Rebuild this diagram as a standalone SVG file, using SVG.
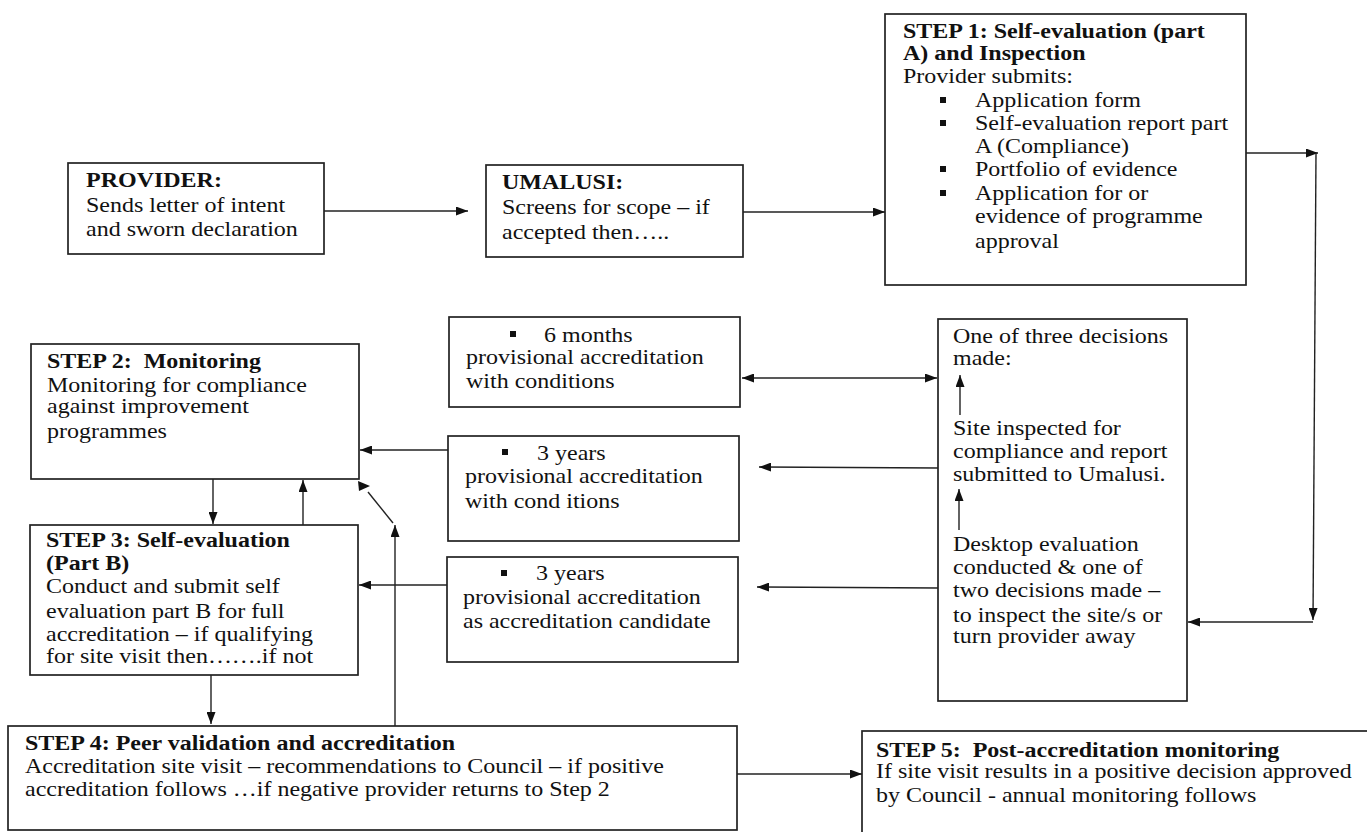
<svg xmlns="http://www.w3.org/2000/svg" width="1367" height="832" viewBox="0 0 1367 832">
<style>
.box{fill:#fff;stroke:#222;stroke-width:1.7}
.t{font-family:"Liberation Serif","Times New Roman",serif;font-size:20px;fill:#111}
.b{font-weight:bold}
.c{fill:none;stroke:#222;stroke-width:1.4}
.a{marker-end:url(#ah)}
.bul{fill:#111}
</style>
<defs>
<marker id="ah" markerUnits="userSpaceOnUse" markerWidth="12" markerHeight="9" refX="12" refY="4.5" orient="auto-start-reverse" viewBox="0 0 12 9">
<path d="M0,0 L12,4.5 L0,9 z" fill="#111"/>
</marker>
</defs>
<rect width="1367" height="832" fill="#fff"/>

<g id="provider">
<rect class="box" x="68" y="163" width="256" height="91"/>
<text class="t" transform="matrix(1.2 0 0 1 86 0)"><tspan class="b" x="0" y="187">PROVIDER:</tspan><tspan x="0" y="212">Sends letter of intent</tspan><tspan x="0" y="236">and sworn declaration</tspan></text>
</g>

<g id="umalusi">
<rect class="box" x="486" y="165" width="257" height="92"/>
<text class="t" transform="matrix(1.2 0 0 1 502 0)"><tspan class="b" x="0" y="189">UMALUSI:</tspan><tspan x="0" y="214">Screens for scope – if</tspan><tspan x="0" y="239">accepted then…..</tspan></text>
</g>

<g id="step1">
<rect class="box" x="885" y="14" width="361" height="271"/>
<text class="t" transform="matrix(1.2 0 0 1 903 0)"><tspan class="b" x="0" y="38">STEP 1: Self-evaluation (part</tspan><tspan class="b" x="0" y="60">A) and Inspection</tspan><tspan x="0" y="83">Provider submits:</tspan></text>
<rect class="bul" x="940" y="97" width="6" height="6"/>
<rect class="bul" x="940" y="120" width="6" height="6"/>
<rect class="bul" x="940" y="166" width="6" height="6"/>
<rect class="bul" x="940" y="190" width="6" height="6"/>
<text class="t" transform="matrix(1.2 0 0 1 975 0)"><tspan x="0" y="107">Application form</tspan><tspan x="0" y="130">Self-evaluation report part</tspan><tspan x="0" y="153">A (Compliance)</tspan><tspan x="0" y="176">Portfolio of evidence</tspan><tspan x="0" y="200">Application for or</tspan><tspan x="0" y="223">evidence of programme</tspan><tspan x="0" y="248">approval</tspan></text>
</g>

<g id="step2">
<rect class="box" x="31" y="344" width="328" height="135"/>
<text class="t" transform="matrix(1.2 0 0 1 47 0)"><tspan class="b" x="0" y="368">STEP 2:&#160; Monitoring</tspan><tspan x="0" y="392">Monitoring for compliance</tspan><tspan x="0" y="413">against improvement</tspan><tspan x="0" y="438">programmes</tspan></text>
</g>

<g id="step3">
<rect class="box" x="30" y="525" width="328" height="150"/>
<text class="t" transform="matrix(1.2 0 0 1 46 0)"><tspan class="b" x="0" y="547">STEP 3: Self-evaluation</tspan><tspan class="b" x="0" y="570">(Part B)</tspan><tspan x="0" y="593">Conduct and submit self</tspan><tspan x="0" y="618">evaluation part B for full</tspan><tspan x="0" y="641">accreditation – if qualifying</tspan><tspan x="0" y="663">for site visit then…….if not</tspan></text>
</g>

<g id="six-months">
<rect class="box" x="449" y="317" width="291" height="90"/>
<rect class="bul" x="510" y="331" width="6" height="6"/>
<text class="t" transform="matrix(1.2 0 0 1 544 0)"><tspan x="0" y="342">6 months</tspan></text>
<text class="t" transform="matrix(1.2 0 0 1 466 0)"><tspan x="0" y="364">provisional accreditation</tspan><tspan x="0" y="388">with conditions</tspan></text>
</g>

<g id="three-years-conditions">
<rect class="box" x="448" y="436" width="291" height="105"/>
<rect class="bul" x="502" y="449" width="6" height="6"/>
<text class="t" transform="matrix(1.2 0 0 1 537 0)"><tspan x="0" y="460">3 years</tspan></text>
<text class="t" transform="matrix(1.2 0 0 1 465 0)"><tspan x="0" y="483">provisional accreditation</tspan><tspan x="0" y="508">with cond itions</tspan></text>
</g>

<g id="three-years-candidate">
<rect class="box" x="447" y="557" width="291" height="105"/>
<rect class="bul" x="501" y="570" width="6" height="6"/>
<text class="t" transform="matrix(1.2 0 0 1 536 0)"><tspan x="0" y="580">3 years</tspan></text>
<text class="t" transform="matrix(1.2 0 0 1 463 0)"><tspan x="0" y="604">provisional accreditation</tspan><tspan x="0" y="628">as accreditation candidate</tspan></text>
</g>

<g id="decisions">
<rect class="box" x="938" y="319" width="249" height="382"/>
<text class="t" transform="matrix(1.2 0 0 1 953 0)"><tspan x="0" y="343">One of three decisions</tspan><tspan x="0" y="365">made:</tspan><tspan x="0" y="435">Site inspected for</tspan><tspan x="0" y="458">compliance and report</tspan><tspan x="0" y="481">submitted to Umalusi.</tspan><tspan x="0" y="551">Desktop evaluation</tspan><tspan x="0" y="574">conducted &amp; one of</tspan><tspan x="0" y="597">two decisions made –</tspan><tspan x="0" y="622">to inspect the site/s or</tspan><tspan x="0" y="643">turn provider away</tspan></text>
</g>

<g id="step4">
<rect class="box" x="8" y="726" width="729" height="104"/>
<text class="t" transform="matrix(1.2 0 0 1 25 0)"><tspan class="b" x="0" y="750">STEP 4: Peer validation and accreditation</tspan><tspan x="0" y="773">Accreditation site visit – recommendations to Council – if positive</tspan><tspan x="0" y="796">accreditation follows …if negative provider returns to Step 2</tspan></text>
</g>

<g id="step5">
<rect class="box" x="862" y="731" width="520" height="120"/>
<text class="t" transform="matrix(1.2 0 0 1 876 0)"><tspan class="b" x="0" y="757">STEP 5:&#160; Post-accreditation monitoring</tspan><tspan x="0" y="778">If site visit results in a positive decision approved</tspan><tspan x="0" y="802">by Council - annual monitoring follows</tspan></text>
</g>

<g id="connectors">
<path class="c a" d="M324,211 H468"/>
<path class="c a" d="M743,212 H885"/>
<path class="c a" d="M1246,153 H1318"/>
<path class="c a" d="M1316,153 L1313,620"/>
<path class="c a" d="M1313,622 H1188"/>
<path class="c a" d="M742,378 H937" style="marker-start:url(#ah)"/>
<path class="c a" d="M938,468 L759,467"/>
<path class="c a" d="M938,588 L757,587"/>
<path class="c a" d="M448,450 H360"/>
<path class="c a" d="M447,585 H359"/>
<path class="c a" d="M213,479 V524"/>
<path class="c a" d="M303,525 V480"/>
<path class="c a" d="M211,675 V724"/>
<path class="c a" d="M395,726 V525"/>
<path class="c" d="M393,523 L368,492"/>
<polygon points="358,481 359,491 370,486" fill="#111"/>
<path class="c a" d="M960,415 V375"/>
<path class="c a" d="M959,530 V489"/>
<path class="c a" d="M737,774 H862"/>
</g>
</svg>
